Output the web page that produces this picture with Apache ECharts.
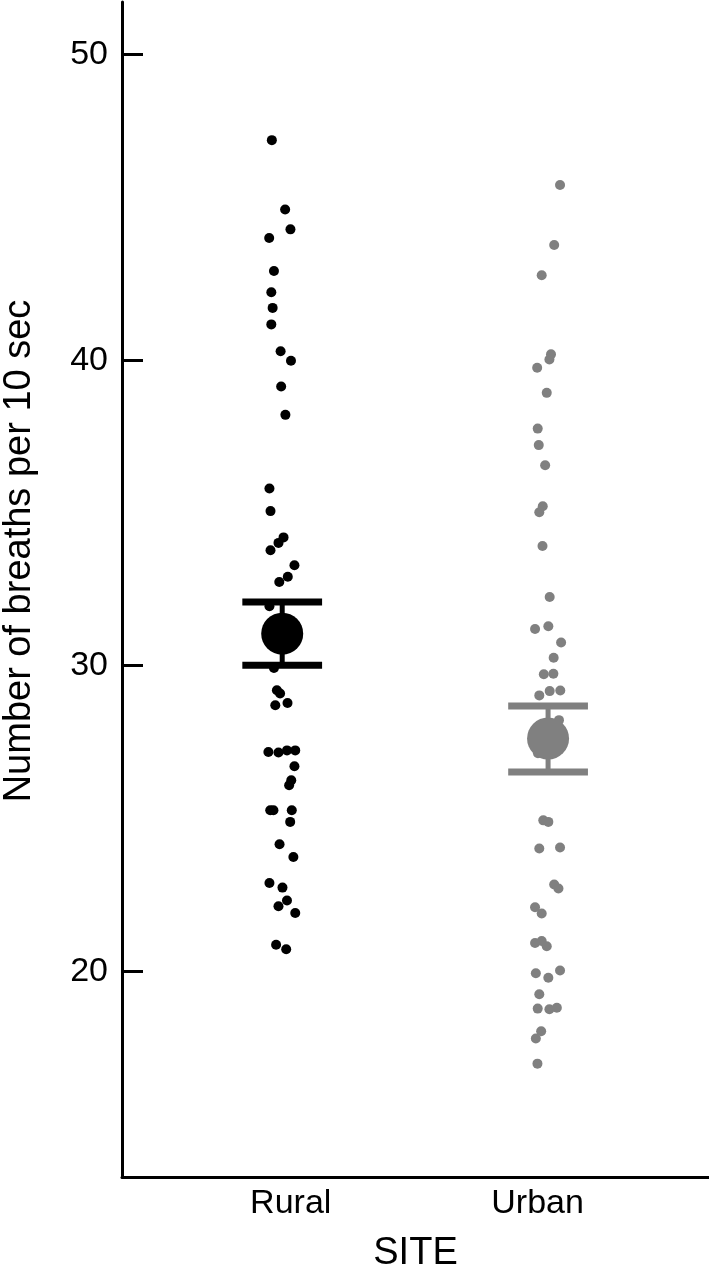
<!DOCTYPE html>
<html>
<head>
<meta charset="utf-8">
<script src="https://cdn.jsdelivr.net/npm/echarts@6/dist/echarts.min.js"></script>
<style>
  html, body { margin: 0; padding: 0; background: #fff; }
  #chart { width: 709px; height: 1284px; }
</style>
</head>
<body>
<div id="chart"></div>
<script>
// categories and tick labels
const sites = ['Rural', 'Urban'];
const yTicks = [20, 30, 40, 50];

// jittered points [x, breaths] (x: 1 = Rural, 2 = Urban)
const ruralPoints = [
  [0.961, 47.2], [1.011, 44.93], [1.031, 44.28], [0.951, 44.0], [0.969, 42.92],
  [0.959, 42.22], [0.964, 41.71], [0.959, 41.17], [0.994, 40.29], [1.033, 39.98],
  [0.996, 39.14], [1.012, 38.21], [0.952, 35.8], [0.956, 35.06], [1.005, 34.2],
  [0.986, 34.02], [0.956, 33.78], [1.046, 33.29], [1.021, 32.91], [0.989, 32.74],
  [0.952, 31.95], [0.969, 29.93], [0.98, 29.2], [0.992, 29.09], [0.974, 28.71],
  [1.02, 28.78], [0.948, 27.18], [0.986, 27.16], [1.018, 27.23], [1.049, 27.23],
  [1.046, 26.71], [1.034, 26.25], [1.026, 26.09], [0.955, 25.27], [0.967, 25.27],
  [1.036, 25.27], [1.03, 24.89], [0.99, 24.16], [1.042, 23.74], [0.952, 22.89],
  [1.001, 22.74], [1.018, 22.32], [0.986, 22.13], [1.049, 21.91], [0.977, 20.87],
  [1.015, 20.72]
];
const urbanPoints = [
  [2.045, 45.73], [2.023, 43.77], [1.976, 42.78], [2.011, 40.19], [2.005, 40.02],
  [1.959, 39.75], [1.995, 38.93], [1.961, 37.76], [1.965, 37.22], [1.989, 36.56],
  [1.98, 35.22], [1.967, 35.02], [1.979, 33.92], [2.006, 32.25], [1.951, 31.2],
  [2.001, 31.29], [2.049, 30.76], [2.021, 30.26], [1.984, 29.72], [2.02, 29.74],
  [1.967, 29.03], [2.006, 29.17], [2.046, 29.19], [2.041, 28.22], [1.962, 27.14],
  [1.982, 24.94], [2.001, 24.89], [1.967, 24.02], [2.045, 24.05], [2.023, 22.84],
  [2.039, 22.71], [1.951, 22.1], [1.976, 21.89], [1.951, 20.93], [1.976, 20.99],
  [1.995, 20.82], [1.954, 19.94], [2.001, 19.79], [2.045, 20.03], [1.967, 19.25],
  [1.961, 18.78], [2.005, 18.76], [2.033, 18.81], [1.974, 18.04], [1.954, 17.8],
  [1.96, 16.98]
];

// group means and interval limits
const means = [31.05, 27.62];
const lowers = [30.02, 26.52];
const uppers = [32.09, 28.68];

const colors = ['#000000', '#808080'];
const FONT = '"Liberation Sans", Arial, sans-serif';

const chart = echarts.init(document.getElementById('chart'));

const errData = means.map(function (m, i) {
  return [i + 1, lowers[i], uppers[i]];
});

const option = {
  animation: false,
  backgroundColor: '#fff',
  grid: { left: 122, right: 0, top: 2, bottom: 107 },
  xAxis: [
    {
      // label axis
      type: 'value',
      min: 0.3166,
      max: 2.6943,
      name: 'SITE',
      nameLocation: 'middle',
      nameGap: 58,
      nameTextStyle: { color: '#000', fontSize: 38, fontFamily: FONT },
      axisLine: { onZero: false, lineStyle: { color: '#000', width: 3 } },
      axisTick: { show: false },
      splitLine: { show: false },
      axisLabel: {
        customValues: [1, 2],
        margin: 10,
        color: '#000',
        fontSize: 34,
        fontFamily: FONT,
        formatter: function (v) { return sites[Math.round(v) - 1]; }
      }
    },
    {
      // data axis
      type: 'value',
      min: 0.3974,
      max: 2.6053,
      show: false
    }
  ],
  yAxis: {
    type: 'value',
    min: 13.27,
    max: 51.72,
    axisLine: { show: true, onZero: false, lineStyle: { color: '#000', width: 3 } },
    axisTick: {
      show: true,
      inside: true,
      length: 21,
      customValues: yTicks,
      lineStyle: { color: '#000', width: 3 }
    },
    splitLine: { show: false },
    axisLabel: {
      customValues: yTicks,
      margin: 14,
      color: '#000',
      fontSize: 34,
      fontFamily: FONT
    }
  },
  graphic: [{
    type: 'text',
    x: 20,
    y: 551,
    rotation: Math.PI / 2,
    style: {
      text: 'Number of breaths per 10 sec',
      fill: '#000',
      fontSize: 38,
      fontFamily: FONT,
      align: 'center',
      verticalAlign: 'middle'
    }
  }],
  series: [
    {
      type: 'scatter',
      xAxisIndex: 1,
      data: ruralPoints,
      symbolSize: 10,
      itemStyle: { color: colors[0], opacity: 1 }
    },
    {
      type: 'scatter',
      xAxisIndex: 1,
      data: urbanPoints,
      symbolSize: 10,
      itemStyle: { color: colors[1], opacity: 1 }
    },
    {
      type: 'custom',
      xAxisIndex: 1,
      data: errData,
      renderItem: function (params, api) {
        const x = api.value(0);
        const lo = api.value(1);
        const hi = api.value(2);
        const c = colors[params.dataIndex];
        const half = 0.15;
        const pLo = api.coord([x, lo]);
        const pHi = api.coord([x, hi]);
        const lL = api.coord([x - half, lo]);
        const lR = api.coord([x + half, lo]);
        const hL = api.coord([x - half, hi]);
        const hR = api.coord([x + half, hi]);
        return {
          type: 'group',
          children: [
            { type: 'line', shape: { x1: pLo[0], y1: pLo[1], x2: pHi[0], y2: pHi[1] },
              style: { stroke: c, lineWidth: 5 } },
            { type: 'line', shape: { x1: lL[0], y1: lL[1], x2: lR[0], y2: lR[1] },
              style: { stroke: c, lineWidth: 7 } },
            { type: 'line', shape: { x1: hL[0], y1: hL[1], x2: hR[0], y2: hR[1] },
              style: { stroke: c, lineWidth: 7 } }
          ]
        };
      }
    },
    {
      type: 'scatter',
      xAxisIndex: 1,
      data: means.map(function (m, i) { return [i + 1, m]; }),
      symbolSize: 42,
      itemStyle: {
        opacity: 1,
        color: function (p) { return colors[p.dataIndex]; }
      }
    }
  ]
};

chart.setOption(option);
</script>
</body>
</html>
